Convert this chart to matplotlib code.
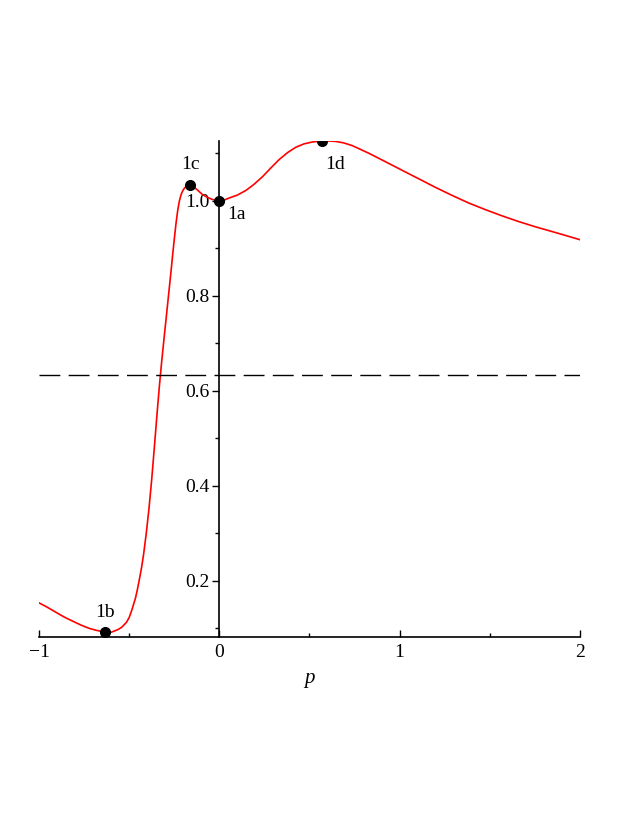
import matplotlib
matplotlib.use("Agg")
import matplotlib.pyplot as plt
from matplotlib.ticker import MultipleLocator, FixedLocator

plt.rcParams['font.family'] = ['Liberation Serif', 'DejaVu Serif']

# curve values
p_vals = [-1.0, -0.96, -0.91, -0.86, -0.80, -0.76, -0.72, -0.68, -0.632,
          -0.60, -0.56, -0.54, -0.515, -0.50, -0.485, -0.465, -0.455, -0.445,
          -0.43, -0.42, -0.405, -0.39, -0.375, -0.36, -0.345, -0.333,
          -0.32, -0.305, -0.295, -0.286, -0.277, -0.268, -0.258, -0.249,
          -0.24, -0.231, -0.222, -0.212, -0.203, -0.193, -0.18,
          -0.162, -0.145, -0.125, -0.093, -0.07, -0.04, -0.02, 0.0, 0.01,
          0.03, 0.055, 0.10, 0.148, 0.19, 0.240, 0.285, 0.332, 0.38, 0.425,
          0.47, 0.517, 0.567, 0.61, 0.647, 0.69, 0.739, 0.83, 0.923, 1.015,
          1.108, 1.20, 1.293, 1.385, 1.478, 1.57, 1.662, 1.755, 1.847, 1.92,
          2.0]
f_vals = [0.153, 0.145, 0.134, 0.123, 0.112, 0.105, 0.099, 0.095, 0.091,
          0.091, 0.097, 0.102, 0.112, 0.122, 0.138, 0.163, 0.180, 0.199,
          0.230, 0.255, 0.300, 0.352, 0.413, 0.482, 0.553, 0.607,
          0.660, 0.716, 0.752, 0.785, 0.818, 0.851, 0.889, 0.922,
          0.953, 0.979, 0.999, 1.013, 1.021, 1.027, 1.031,
          1.033, 1.030, 1.024, 1.013, 1.008, 1.003, 1.001, 1.0, 1.000,
          1.002, 1.006, 1.012, 1.022, 1.034, 1.051, 1.069, 1.087, 1.102, 1.113,
          1.120, 1.124, 1.126, 1.126, 1.125, 1.122, 1.116, 1.100, 1.082, 1.064,
          1.046, 1.028, 1.011, 0.995, 0.981, 0.968, 0.956, 0.945, 0.935, 0.927,
          0.918]

# marked points
pt_names = ['1a', '1b', '1c', '1d']
pt_p = [0.0, -0.632, -0.162, 0.567]
pt_f = [1.0, 0.091, 1.033, 1.126]

threshold = 0.632

fig = plt.figure(figsize=(6.32, 8.17), dpi=100)
ax = fig.add_axes([0.0617, 0.2203, 0.856, 0.6077])

ax.plot(p_vals, f_vals, color='red', linewidth=1.2)
ax.axhline(threshold, color='black', linewidth=1.0, dashes=(15, 6))
ax.plot(pt_p, pt_f, 'o', color='black', markersize=7, zorder=5)

# label offsets in points
offsets = {'1a': (12, -10), '1b': (0, 14), '1c': (0, 15), '1d': (10, -17)}
for name, x, y in zip(pt_names, pt_p, pt_f):
    dx, dy = offsets[name]
    ax.annotate(name, (x, y), xytext=(dx, dy), textcoords='offset points',
                ha='center', va='center', fontsize=14)

ax.set_xlim(-1, 2)
ax.set_ylim(0.081, 1.127)

ax.spines['top'].set_visible(False)
ax.spines['right'].set_visible(False)
ax.spines['left'].set_position(('data', 0))
for s in ['left', 'bottom']:
    ax.spines[s].set_linewidth(1.2)

ax.xaxis.set_major_locator(FixedLocator([-1, 0, 1, 2]))
ax.xaxis.set_minor_locator(MultipleLocator(0.5))
ax.set_xticklabels(['\u22121', '0', '1', '2'])
ax.yaxis.set_major_locator(FixedLocator([0.2, 0.4, 0.6, 0.8, 1.0]))
ax.yaxis.set_minor_locator(FixedLocator([0.1, 0.3, 0.5, 0.7, 0.9, 1.1]))
ax.set_yticklabels(['0.2', '0.4', '0.6', '0.8', '1.0'])

ax.tick_params(axis='x', which='both', direction='in', labelsize=14, pad=5)
ax.tick_params(axis='x', which='major', length=5, width=1)
ax.tick_params(axis='x', which='minor', length=3, width=1)
ax.tick_params(axis='y', which='both', direction='out', labelsize=14, pad=2)
ax.tick_params(axis='y', which='major', length=5, width=1)
ax.tick_params(axis='y', which='minor', length=3, width=1)

ax.set_xlabel('p', fontsize=15, fontstyle='italic', labelpad=6)

fig.savefig('out.png', dpi=100)
